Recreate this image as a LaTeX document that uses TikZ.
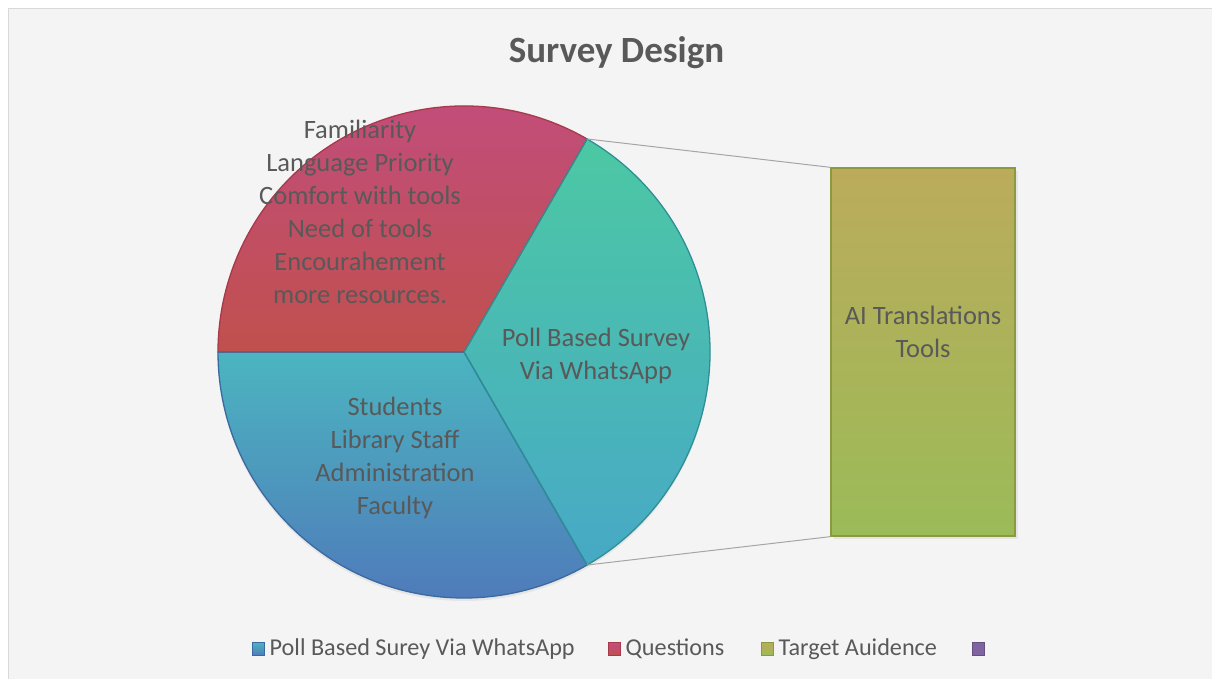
\documentclass[tikz,border=0pt]{standalone}
\usepackage{fontspec}
\setmainfont{Carlito}
\usetikzlibrary{positioning,shadows,calc}
\definecolor{txtgray}{HTML}{595959}
\definecolor{chartbg}{HTML}{F4F4F4}
\definecolor{framegray}{HTML}{D9D9D9}
\definecolor{linegray}{HTML}{A5A5A5}
\definecolor{qtop}{HTML}{C24D80}
\definecolor{qbot}{HTML}{C0504D}
\definecolor{qline}{HTML}{A8394A}
\definecolor{ptop}{HTML}{4CC8A3}
\definecolor{pbot}{HTML}{47A9C6}
\definecolor{pline}{HTML}{2E8F95}
\definecolor{ttop}{HTML}{4BB5C0}
\definecolor{tbot}{HTML}{4F7BBA}
\definecolor{tline}{HTML}{3A6AA0}
\definecolor{btop}{HTML}{BBAB5A}
\definecolor{bbot}{HTML}{9BBB59}
\definecolor{bline}{HTML}{8A9A3C}
\definecolor{purp}{HTML}{8064A2}
\tikzset{
  lbl/.style={text=txtgray,align=center,font=\fontsize{26.5}{33}\selectfont},
  legtxt/.style={text=txtgray,anchor=west,inner sep=0pt,font=\fontsize{24.2}{26}\selectfont},
  legmk/.style={minimum width=12pt,minimum height=13pt,inner sep=0pt,line width=1pt},
  slice/.style={line width=1.3pt}
}
\begin{document}
\begin{tikzpicture}[x=1pt,y=1pt]
\useasboundingbox (0,0) rectangle (1212,679);
% chart area
\draw[fill=chartbg,draw=framegray,line width=1.5pt] (8.5,670.5) rectangle (1214,-2);
\node (title) at (616.5,626) {\fontsize{37}{40}\selectfont\bfseries\color{txtgray}Survey Design};
% pie
\coordinate (C) at (464,327);
\fill[chartbg,drop shadow={opacity=0.12,shadow xshift=0pt,shadow yshift=-3pt}] (C) circle (246);
\shade[top color=qtop,bottom color=qbot] (C) -- ++(60:246) arc[start angle=60,end angle=180,radius=246] -- cycle;
\shade[top color=ttop,bottom color=tbot] (C) -- ++(180:246) arc[start angle=180,end angle=300,radius=246] -- cycle;
\shade[top color=ptop,bottom color=pbot] (C) -- ++(-60:246) arc[start angle=-60,end angle=60,radius=246] -- cycle;
\draw[slice,qline] (C) -- ++(60:246) arc[start angle=60,end angle=180,radius=246] -- cycle;
\draw[slice,tline] (C) -- ++(180:246) arc[start angle=180,end angle=300,radius=246] -- cycle;
\draw[slice,pline] (C) -- ++(-60:246) arc[start angle=-60,end angle=60,radius=246] -- cycle;
\coordinate (pt1) at ($(C)+(60:246)$);
\coordinate (pt2) at ($(C)+(-60:246)$);
% bar of pie
\node (box) [draw=bline,line width=1.3pt,top color=btop,bottom color=bbot,minimum width=184pt,minimum height=368pt,
  drop shadow={opacity=0.12,shadow xshift=3pt,shadow yshift=-3pt}] at (923,327) {};
\draw[linegray,line width=1pt] (pt1) -- (box.north west);
\draw[linegray,line width=1pt] (pt2) -- (box.south west);
% labels
\node (qlab) [lbl] at (360,467) {Familiarity\\Language Priority\\Comfort with tools\\Need of tools\\Encourahement\\more resources.};
\node (tlab) [lbl] at (395,221) {Students\\Library Staff\\Administration\\Faculty};
\node (plab) [lbl] at (596,323) {Poll Based Survey\\Via WhatsApp};
\node (blab) [lbl] at (923,347) {AI Translations\\Tools};
% legend
\node (mk1) [legmk,draw=tline,top color=ttop,bottom color=tbot] at (258,30) {};
\node (lg1) [legtxt,right=5pt of mk1] {Poll Based Surey Via WhatsApp};
\node (mk2) [legmk,draw=qline,top color=qtop,bottom color=qbot] at (614,30) {};
\node (lg2) [legtxt,right=5pt of mk2] {Questions};
\node (mk3) [legmk,draw=bline,top color=btop,bottom color=bbot] at (767,30) {};
\node (lg3) [legtxt,right=5pt of mk3] {Target Auidence};
\node (mk4) [legmk,draw=purp!80!black,fill=purp] at (978,30) {};
\end{tikzpicture}
\end{document}
